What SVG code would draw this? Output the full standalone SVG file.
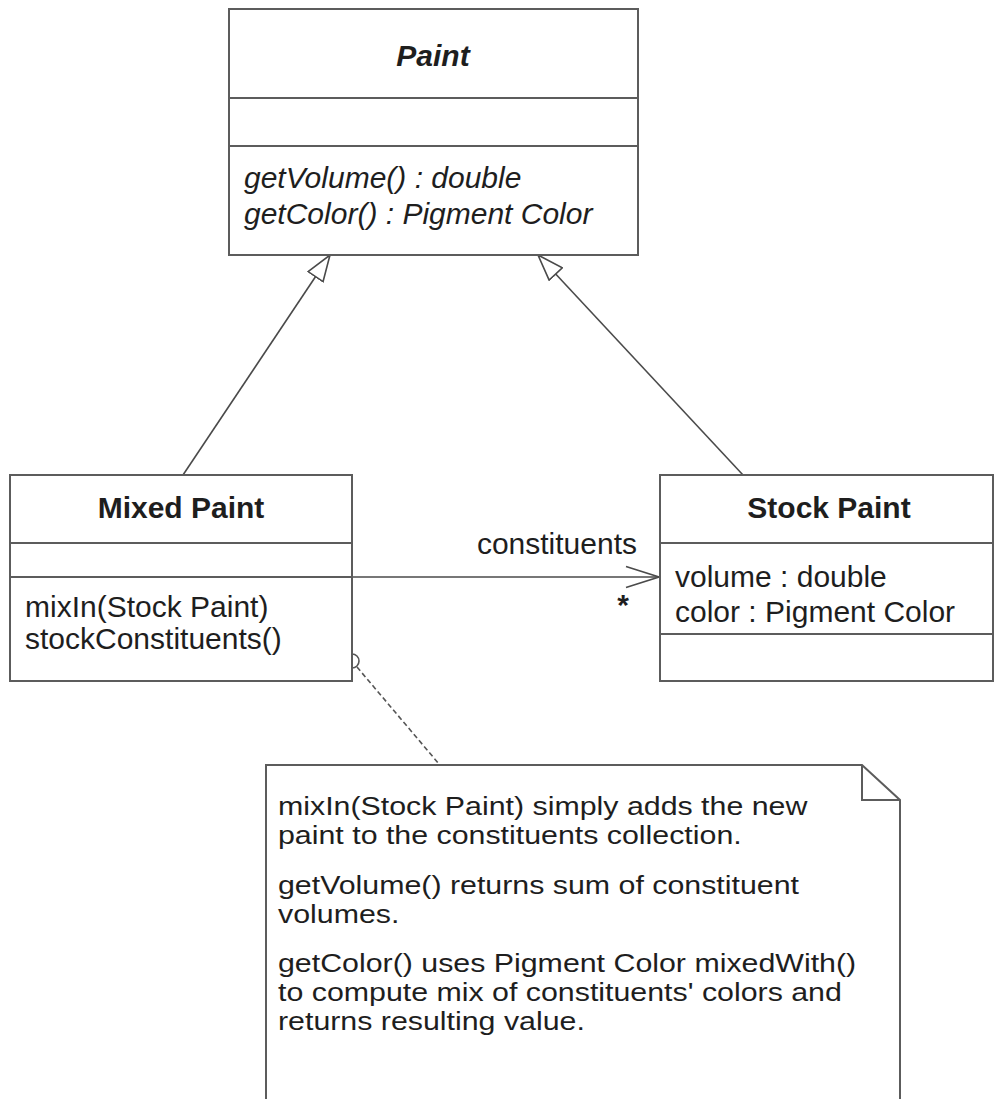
<svg xmlns="http://www.w3.org/2000/svg" width="994" height="1099" viewBox="0 0 994 1099">
  <style>
    .box { fill: #ffffff; stroke: #5c5c5c; stroke-width: 2; }
    .div { stroke: #5c5c5c; stroke-width: 2; fill: none; }
    .t { font-family: "Liberation Sans", Arial, sans-serif; font-size: 30px; fill: #1e1e1e; }
    .nt { font-family: "Liberation Sans", Arial, sans-serif; font-size: 25.5px; fill: #1e1e1e; }
    .title { font-weight: bold; text-anchor: middle; }
    .ital { font-style: italic; }
    .conn { stroke: #4a4a4a; stroke-width: 1.6; fill: none; }
    .dash { stroke: #555555; stroke-width: 1.6; fill: none; stroke-dasharray: 5 3; }
  </style>
  <defs>
    <marker id="gen" markerUnits="userSpaceOnUse" viewBox="0 0 28 20" markerWidth="28" markerHeight="20" refX="27" refY="10" orient="auto">
      <path d="M1,1 L27,10 L1,19 Z" fill="#ffffff" stroke="#4a4a4a" stroke-width="1.6"/>
    </marker>
    <marker id="open" markerUnits="userSpaceOnUse" viewBox="0 0 36 24" markerWidth="36" markerHeight="24" refX="34" refY="12" orient="auto">
      <path d="M1,1.5 L34,12 L1,22.5" fill="none" stroke="#4a4a4a" stroke-width="1.6"/>
    </marker>
  </defs>

  <g id="connectors">
    <line class="conn" x1="183" y1="475" x2="330" y2="255" marker-end="url(#gen)"/>
    <line class="conn" x1="743" y1="475" x2="538" y2="255" marker-end="url(#gen)"/>
    <line class="conn" x1="352" y1="577" x2="659" y2="577" marker-end="url(#open)"/>
    <text class="t" x="637" y="554" text-anchor="end">constituents</text>
    <text class="t" x="623" y="615" text-anchor="middle" font-weight="bold">*</text>
    <line class="dash" x1="357" y1="667" x2="439" y2="764"/>
    <circle cx="352" cy="661" r="7" fill="#ffffff" stroke="#555555" stroke-width="1.6"/>
  </g>

  <g id="paint">
    <rect class="box" x="229" y="9" width="409" height="246"/>
    <line class="div" x1="229" y1="98" x2="638" y2="98"/>
    <line class="div" x1="229" y1="146" x2="638" y2="146"/>
    <text class="t title ital" x="433" y="66">Paint</text>
    <text class="t ital" x="244" y="188">getVolume() : double</text>
    <text class="t ital" x="244" y="224">getColor() : Pigment Color</text>
  </g>

  <g id="mixed-paint">
    <rect class="box" x="10" y="475" width="342" height="206"/>
    <line class="div" x1="10" y1="543" x2="352" y2="543"/>
    <line class="div" x1="10" y1="577" x2="352" y2="577"/>
    <text class="t title" x="181" y="518">Mixed Paint</text>
    <text class="t" x="25" y="617">mixIn(Stock Paint)</text>
    <text class="t" x="25" y="649">stockConstituents()</text>
  </g>

  <g id="stock-paint">
    <rect class="box" x="660" y="475" width="333" height="206"/>
    <line class="div" x1="660" y1="543" x2="993" y2="543"/>
    <line class="div" x1="660" y1="634" x2="993" y2="634"/>
    <text class="t title" x="829" y="518">Stock Paint</text>
    <text class="t" x="675" y="587">volume : double</text>
    <text class="t" x="675" y="622">color : Pigment Color</text>
  </g>

  <g id="note">
    <path d="M266,1110 V765 H862 L900,800 V1110" fill="#ffffff" stroke="#5c5c5c" stroke-width="2"/>
    <path d="M862,765 V800 H900" fill="none" stroke="#5c5c5c" stroke-width="2"/>
    <g transform="translate(278,0) scale(1.19,1)">
      <text class="nt" x="0" y="815">mixIn(Stock Paint) simply adds the new</text>
      <text class="nt" x="0" y="844">paint to the constituents collection.</text>
      <text class="nt" x="0" y="894">getVolume() returns sum of constituent</text>
      <text class="nt" x="0" y="923">volumes.</text>
      <text class="nt" x="0" y="972">getColor() uses Pigment Color mixedWith()</text>
      <text class="nt" x="0" y="1001">to compute mix of constituents' colors and</text>
      <text class="nt" x="0" y="1030">returns resulting value.</text>
    </g>
  </g>
</svg>
